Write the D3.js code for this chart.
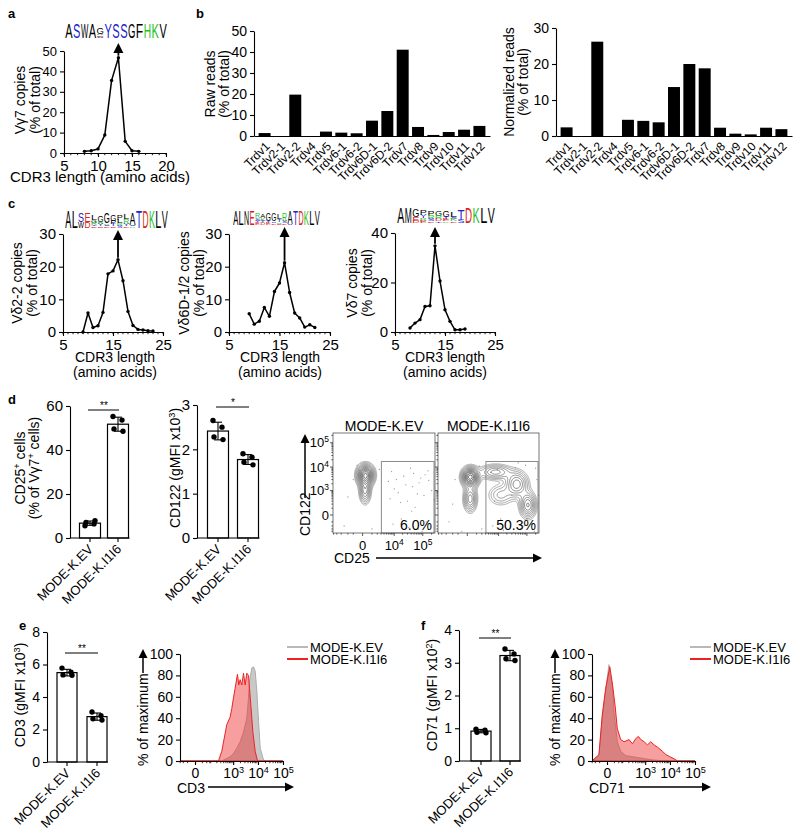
<!DOCTYPE html>
<html><head><meta charset="utf-8">
<script src="https://cdn.jsdelivr.net/npm/d3@7/dist/d3.min.js"></script>
<style>body{margin:0;background:#fff}</style>
</head><body>
<svg id="fig" width="800" height="838" xmlns="http://www.w3.org/2000/svg"></svg>
<script>
// ================= DATA =================
// panel a
const aCdr3Len = [8,9,10,11,12,13,14,15,16];
const aVg7Copies = [0.8,1.1,2.0,8.8,35.6,46.7,5.7,1.1,0.8];
const aPeakLen = 13;
const aLogo = [[["A",1]],[["S",1]],[["W",1]],[["A",1]],[["G",0.5],["R",0.12],["E",0.1],["S",0.1]],[["Y",1]],[["S",1]],[["S",1]],[["G",1]],[["F",1]],[["H",1]],[["K",1]],[["V",1]]];
// panel b
const trdvGenes = ["Trdv1","Trdv2-1","Trdv2-2","Trdv4","Trdv5","Trdv6-1","Trdv6-2","Trdv6D-1","Trdv6D-2","Trdv7","Trdv8","Trdv9","Trdv10","Trdv11","Trdv12"];
const rawReads  = [1.4,0,19.7,0,2.1,1.6,1.3,7.3,11.9,41.1,4.3,0.5,1.9,3.0,4.8];
const normReads = [2.4,0,26.2,0,4.5,4.2,3.8,13.6,20.0,18.8,2.3,0.65,0.45,2.3,1.9];
// panel c
const c1Len = [9,10,11,12,13,14,15,16,17,18,19,20,21,22,23];
const c1Copies = [0,5.8,1.4,1.9,6.0,17.8,18.7,22.1,15.7,6.3,2.0,0.8,0.6,0.4,0.3];
const c2Len = [9,10,11,12,13,14,15,16,17,18,19,20,21,22];
const c2Copies = [5.6,2.4,3.3,7.5,4.8,12.4,15.0,21.2,12.1,5.8,4.3,1.5,2.2,1.4];
const c3Len = [8,9,10,11,12,13,14,15,16,17,18,19];
const c3Copies = [1.6,3.6,5.0,10.3,10.6,34.8,20.6,9.0,4.3,0.9,0.9,1.2];
const cPeakLen = [16,16,13];
const c1Logo = [[["A",1]],[["L",1]],[["S",0.55],["W",0.35]],[["E",0.55],["D",0.35]],
 [["L",0.3],["G",0.15],["R",0.12],["T",0.1],["E",0.1]],[["G",0.4],["R",0.12],["Y",0.12],["E",0.1]],
 [["G",0.6],["K",0.1],["S",0.1],["D",0.1]],[["G",0.35],["P",0.2],["T",0.12],["E",0.1]],
 [["P",0.3],["L",0.2],["R",0.15],["S",0.12]],[["L",0.3],["R",0.3],["Y",0.12],["D",0.1]],
 [["A",0.7],["S",0.1],["K",0.1]],[["T",1]],[["D",1]],[["K",1]],[["L",1]],[["V",1]]];
const c2Logo = [[["A",1]],[["L",1]],[["N",1]],[["E",1]],
 [["R",0.35],["S",0.2],["Y",0.15],["E",0.15]],[["A",0.3],["K",0.15],["T",0.15],["D",0.15]],
 [["G",0.5],["Y",0.15],["E",0.15]],[["G",0.55],["S",0.12],["D",0.12]],
 [["L",0.35],["T",0.15],["R",0.12],["E",0.1]],[["R",0.5],["S",0.15],["D",0.12]],
 [["A",0.85],["S",0.1]],[["T",1]],[["D",1]],[["K",1]],[["L",1]],[["V",1]]];
const c3Logo = [[["A",1]],[["M",1]],[["G",0.5],["E",0.2],["D",0.15]],
 [["P",0.3],["Y",0.2],["R",0.15],["E",0.15]],[["P",0.35],["R",0.2],["S",0.15],["D",0.1]],
 [["G",0.35],["R",0.2],["D",0.15],["T",0.1]],[["G",0.4],["T",0.15],["E",0.12],["K",0.1]],
 [["L",0.35],["S",0.15],["K",0.12],["D",0.1]],[["T",0.65],["S",0.2]],
 [["D",1]],[["K",1]],[["L",1]],[["V",1]]];
// panels d-f (bar + dots)
const groups = ["MODE-K.EV","MODE-K.I1I6"];
const cd25EV = [5.6,6.4,7.1,7.9],     cd25I1I6 = [55.2,53.6,49.6,48.5];
const cd122EV = [2.65,2.50,2.28,2.22], cd122I1I6 = [1.90,1.82,1.71,1.65];
const cd3EV = [5.78,5.52,5.36,5.34],   cd3I1I6 = [3.08,2.85,2.66,2.58];
const cd71EV = [0.97,0.94,0.88,0.86],  cd71I1I6 = [3.42,3.27,3.12,3.07];
const sigMarks = ["**","*","**","**"];
// panel d flow (CD25 x CD122)
const gatePct = ["6.0%","50.3%"];
const gateMin = [3100,17000]; // CD25 lower bound, CD122 upper bound
// populations: [CD25, CD122, sd CD25 (decades), sd CD122 (decades), weight]
const evPops = [[240,4600,0.16,0.24,1],[200,1000,0.11,0.3,0.45]];
const i1i6Pops = [[250,3840,0.16,0.22,1],[240,400,0.13,0.3,0.45],[7700,6200,0.32,0.18,0.35],[44800,1930,0.22,0.3,0.45],[108000,173,0.16,0.3,0.5],[11900,616,0.26,0.26,0.2]];
const evEvents = [[6000,2500],[9000,-150],[14000,800],[22000,4200],[30000,300],[45000,1500],[70000,-300],[110000,600],[160000,2800],[8000,6500],[18000,-50],[26000,1800],[38000,9000],[55000,120],[85000,3500],[130000,-100],[200000,1000],[7000,400],[12000,3000],[48000,5500],[65000,700],[95000,-400],[150000,7000],[17000,250],[33000,-250],[75000,2200],[240000,350],[10000,1200],[42000,50],[120000,4800],[-2000,500],[-1000,3000],[1000,-300],[-3000,-200],[2500,8000],[-500,12000]];
const i1i6Events = [[6000,-200],[9000,8000],[15000,-350],[25000,-100],[40000,9500],[60000,-300],[90000,12000],[150000,-150],[220000,3000],[200000,9000],[7000,300],[12000,-50],[35000,-450],[80000,-200],[180000,-400],[250000,600],[5000,6000],[100000,-50],[50000,15000],[30000,600],[-2000,200],[-1500,3000],[-3000,-100],[2000,-300],[-500,-400],[1500,11000]];
// panel e histogram (CD3)
const cd3HistX_EV = [-92,330,748,1027,1408,1925,2629,3584,4182,4588,5700,6647,7756,9052,10553,12307,16740,19530,100000];
const cd3HistY_EV = [0,0,4,7,12,18,27,40,59,75,87,88,84,65,37,12,1,0,0];
const cd3HistX_I1I6 = [-92,235,330,542,748,877,1027,1203,1498,1699,1925,2251,2629,3069,3584,4182,4588,5196,6256,7756,9619,100000];
const cd3HistY_I1I6 = [0,0,9,34,41,49,59,68,81,71,76,71,82,71,82,80,68,52,27,9,0,0];
// panel f histogram (CD71)
const cd71HistX_EV = [-92,-34,-17,-4,6,20,28,49,78,143,560,2000,6876,100000];
const cd71HistY_EV = [0,5,40,66,90,70,45,18,9,5,3,1,0,0];
const cd71HistX_I1I6 = [-92,-34,-17,-4,9,20,34,49,78,117,204,288,405,523,660,905,1237,1676,2322,3125,5019,6876,9920,14806,20075,100000];
const cd71HistY_I1I6 = [0,6,43,68,88,72,52,30,20,18,20,16,21,23,20,18,15,18,15,13,9,6,4,2,0,0];

// ================= DRAW =================
const FONT = '"Liberation Sans", Arial, Helvetica, sans-serif';
const svg = d3.select("#fig").attr("font-family", FONT);
svg.append("rect").attr("width",800).attr("height",838).attr("fill","#fff");
const residueColor = ch => ("STYCQ".includes(ch) ? "#2323cc" : "KRH".includes(ch) ? "#1fbf1f" : "DE".includes(ch) ? "#dd2020" : "#000");
const intFmt = d3.format("~g");

function styleAxis(g, fs){
  g.attr("font-family",FONT).attr("font-size",fs);
  g.select(".domain").attr("stroke","#000").attr("stroke-width",1.1);
  g.selectAll(".tick line").attr("stroke","#000").attr("stroke-width",1.1);
  g.selectAll(".tick text").attr("fill","#000");
  return g;
}
function rich(sel, parts){
  parts.forEach(p=>{
    if (typeof p === "string") sel.append("tspan").text(p);
    else sel.append("tspan").attr("baseline-shift","super").attr("font-size","65%").text(p.s);
  });
  return sel;
}
function label(x,y,parts,fs,anchor="start",rot=0,weight="normal"){
  const t = svg.append("text").attr("transform",`translate(${x},${y})`+(rot?` rotate(${rot})`:""))
    .attr("font-size",fs).attr("text-anchor",anchor).attr("fill","#000").attr("font-weight",weight);
  return rich(t, typeof parts === "string" ? [parts] : parts);
}
function arrow(x1,y1,x2,y2,head=8,w=4,sw=1.5){
  const a = Math.atan2(y2-y1,x2-x1);
  const bx = x2-head*Math.cos(a), by = y2-head*Math.sin(a);
  svg.append("line").attr("x1",x1).attr("y1",y1).attr("x2",bx).attr("y2",by).attr("stroke","#000").attr("stroke-width",sw);
  svg.append("path").attr("d",`M${x2},${y2}L${bx+w*Math.sin(a)},${by-w*Math.cos(a)}L${bx-w*Math.sin(a)},${by+w*Math.cos(a)}Z`).attr("fill","#000");
}
function supTicks(g){
  g.selectAll(".tick text").each(function(d){
    const t = d3.select(this); t.text(null);
    if (d === 0) t.text("0");
    else { t.append("tspan").text("10"); t.append("tspan").attr("baseline-shift","super").attr("font-size","65%").text(Math.round(Math.log10(d))); }
  });
}
function drawLogo(cols,x0,x1,baseline,height){
  const w = (x1-x0)/cols.length, g = svg.append("g");
  cols.forEach((col,i)=>{
    const total = d3.sum(col,d=>d[1]);
    let yy = baseline - total*height;
    col.forEach(([ch,frac])=>{
      const h = frac*height;
      const t = g.append("text").attr("font-size",100).attr("fill",residueColor(ch)).text(ch);
      const bb = t.node().getBBox();
      const sx = (w*0.94)/bb.width, sy = h/72;
      yy += h;
      t.attr("transform",`translate(${x0+i*w+w*0.03-bb.x*sx},${yy}) scale(${sx},${sy})`);
    });
  });
}

// ---------- line plots (a, c) ----------
function cdr3Plot(o){
  const x = d3.scaleLinear().domain(o.xDomain).range([o.x0,o.x1]);
  const y = d3.scaleLinear().domain(o.yDomain).range([o.y0,o.y1]);
  styleAxis(svg.append("g").attr("transform",`translate(${o.x0},0)`).call(d3.axisLeft(y).tickValues(o.yTicks).tickFormat(intFmt).tickSize(4).tickSizeOuter(0)), o.fsY);
  styleAxis(svg.append("g").attr("transform",`translate(0,${o.y0})`).call(d3.axisBottom(x).tickValues(o.xTicks).tickFormat(intFmt).tickSize(4).tickSizeOuter(0)), o.fsX);
  svg.append("g").selectAll("line").data(d3.range(o.xDomain[0],o.xDomain[1]+1)).join("line")
    .attr("x1",d=>x(d)).attr("x2",d=>x(d)).attr("y1",o.y0).attr("y2",o.y0+2.2).attr("stroke","#000").attr("stroke-width",0.9);
  const pts = d3.zip(o.xs,o.ys);
  svg.append("path").datum(pts).attr("d",d3.line().x(d=>x(d[0])).y(d=>y(d[1])))
    .attr("fill","none").attr("stroke","#000").attr("stroke-width",1.5).attr("stroke-linejoin","round");
  svg.append("g").selectAll("circle").data(pts).join("circle").attr("cx",d=>x(d[0])).attr("cy",d=>y(d[1])).attr("r",1.7).attr("fill","#000");
  const pi = o.xs.indexOf(o.peak);
  arrow(x(o.peak), y(o.ys[pi])-2, x(o.peak), o.arrowTip, 10, 5, 1.8);
}

// panel a
label(8,18,"a",13,"start",0,"bold");
drawLogo(aLogo,65,167,38,14);
cdr3Plot({x0:64,x1:166,y0:153,y1:51,xDomain:[5,20],yDomain:[0,50],xTicks:[5,10,15,20],yTicks:[0,10,20,30,40,50],fsY:13,fsX:15,xs:aCdr3Len,ys:aVg7Copies,peak:aPeakLen,arrowTip:43});
label(25,100,"Vγ7 copies",14,"middle",-90);
label(40,100,"(% of total)",14,"middle",-90);
label(100,182,"CDR3 length (amino acids)",15,"middle");

// panel c
label(8,208,"c",13,"start",0,"bold");
drawLogo(c1Logo,65,168,228,17);
drawLogo(c2Logo,233,320,225,15);
drawLogo(c3Logo,397,495,223,16);
cdr3Plot({x0:63,x1:163,y0:332,y1:234,xDomain:[5,25],yDomain:[0,30],xTicks:[5,15,25],yTicks:[0,10,20,30],fsY:15,fsX:15,xs:c1Len,ys:c1Copies,peak:cPeakLen[0],arrowTip:230});
cdr3Plot({x0:229,x1:330,y0:332,y1:234,xDomain:[5,25],yDomain:[0,30],xTicks:[5,15,25],yTicks:[0,10,20,30],fsY:15,fsX:15,xs:c2Len,ys:c2Copies,peak:cPeakLen[1],arrowTip:227});
cdr3Plot({x0:395,x1:495,y0:332,y1:233,xDomain:[5,25],yDomain:[0,40],xTicks:[5,15,25],yTicks:[0,20,40],fsY:15,fsX:15,xs:c3Len,ys:c3Copies,peak:cPeakLen[2],arrowTip:227});
[["Vδ2-2 copies",22,37,115],["Vδ6D-1/2 copies",189,204,280],["Vδ7 copies",357,372,445]].forEach(([t,b1,b2,cx])=>{
  label(b1,283,t,14,"middle",-90); label(b2,283,"(% of total)",14,"middle",-90);
  label(cx,362,"CDR3 length",14,"middle"); label(cx,377,"(amino acids)",14,"middle");
});

// ---------- panel b ----------
label(196,18,"b",13,"start",0,"bold");
function readsPlot(vals,ax,xr,y0,y1,yMax,yTicks){
  const x = d3.scaleBand().domain(trdvGenes).range(xr).paddingInner(0.22).paddingOuter(0.3);
  const y = d3.scaleLinear().domain([0,yMax]).range([y0,y1]);
  svg.append("g").selectAll("rect").data(trdvGenes).join("rect")
    .attr("x",d=>x(d)).attr("width",x.bandwidth())
    .attr("y",(d,i)=>y(vals[i])).attr("height",(d,i)=>y0-y(vals[i])).attr("fill","#000");
  styleAxis(svg.append("g").attr("transform",`translate(${ax},0)`).call(d3.axisLeft(y).tickValues(yTicks).tickSize(4).tickSizeOuter(0)),14);
  const gx = svg.append("g").attr("transform",`translate(0,${y0})`).call(d3.axisBottom(x).tickSize(0).tickSizeOuter(0));
  styleAxis(gx,12);
  gx.selectAll(".tick text").attr("y",0).attr("x",0).attr("dy","0.35em").attr("text-anchor","end").attr("transform","translate(3,8) rotate(-45)");
}
readsPlot(rawReads,254,[254,490],136,31,50,[0,10,20,30,40,50]);
readsPlot(normReads,556,[556,792],136,28,30,[0,10,20,30]);
label(215,84,"Raw reads",14,"middle",-90); label(229,84,"(% of total)",14,"middle",-90);
label(514,82,"Normalized reads",14,"middle",-90); label(528,82,"(% of total)",14,"middle",-90);

// ---------- bar + dots ----------
const jitter = [-5,4,-4,5];
function dotBar(o){
  const x = d3.scaleBand().domain(groups).range(o.band).paddingInner(o.pad).paddingOuter(o.pad/2);
  const y = d3.scaleLinear().domain(o.yDomain).range([o.y0,o.y1]);
  const bw = x.bandwidth(), sets = [o.a,o.b], g = svg.append("g");
  const cxs = groups.map(k=>x(k)+bw/2);
  sets.forEach((vals,k)=>{
    const cx = cxs[k], m = d3.mean(vals), sd = d3.deviation(vals);
    g.append("rect").attr("x",x(groups[k])).attr("y",y(m)).attr("width",bw).attr("height",o.y0-y(m)).attr("fill","#fff").attr("stroke","#000").attr("stroke-width",1.2);
    g.append("line").attr("x1",cx).attr("x2",cx).attr("y1",y(m+sd)).attr("y2",y(m-sd)).attr("stroke","#000").attr("stroke-width",1.1);
    [m+sd,m-sd].forEach(v=>g.append("line").attr("x1",cx-4).attr("x2",cx+4).attr("y1",y(v)).attr("y2",y(v)).attr("stroke","#000").attr("stroke-width",1.1));
    g.selectAll(null).data(vals).join("circle").attr("cx",(v,i)=>cx+jitter[i]).attr("cy",v=>y(v)).attr("r",2.7).attr("fill","#000");
  });
  styleAxis(svg.append("g").attr("transform",`translate(${o.ax},0)`).call(d3.axisLeft(y).tickValues(o.yTicks).tickFormat(intFmt).tickSize(4).tickSizeOuter(0)),o.fs);
  g.append("line").attr("x1",o.ax).attr("x2",cxs[1]+bw/2+1).attr("y1",o.y0).attr("y2",o.y0).attr("stroke","#000").attr("stroke-width",1.1);
  cxs.forEach((cx,k)=>{
    g.append("line").attr("x1",cx).attr("x2",cx).attr("y1",o.y0).attr("y2",o.y0+4).attr("stroke","#000").attr("stroke-width",1.1);
    label(cx+4,o.y0+12,groups[k],13,"end",-45);
  });
  g.append("line").attr("x1",cxs[0]-2).attr("x2",cxs[1]+1).attr("y1",o.sigY).attr("y2",o.sigY).attr("stroke","#000").attr("stroke-width",1);
  label((cxs[0]+cxs[1])/2,o.sigY-1,o.sig,10,"middle");
}
label(8,404,"d",13,"start",0,"bold");
dotBar({a:cd25EV,b:cd25I1I6,ax:70,band:[76,132],pad:0.25,y0:538,y1:406,yDomain:[0,60],yTicks:[0,20,40,60],sigY:410,sig:sigMarks[0],fs:15});
label(25,468,["CD25",{s:"+"}," cells"],14,"middle",-90);
label(39,468,["(% of Vγ7",{s:"+"}," cells)"],14,"middle",-90);
dotBar({a:cd122EV,b:cd122I1I6,ax:197,band:[203,263],pad:0.3,y0:538,y1:405,yDomain:[0,3],yTicks:[0,1,2,3],sigY:407,sig:sigMarks[1],fs:15});
label(180,468,["CD122 (gMFI x10",{s:"3"},")"],14,"middle",-90);

label(19,630,"e",13,"start",0,"bold");
dotBar({a:cd3EV,b:cd3I1I6,ax:47,band:[52,112],pad:0.333,y0:762,y1:632,yDomain:[0,8],yTicks:[0,2,4,6,8],sigY:653,sig:sigMarks[2],fs:14});
label(25,695,["CD3 (gMFI x10",{s:"3"},")"],14,"middle",-90);
label(421,630,"f",13,"start",0,"bold");
dotBar({a:cd71EV,b:cd71I1I6,ax:459,band:[466.5,524.5],pad:0.31,y0:761,y1:630,yDomain:[0,4],yTicks:[0,1,2,3,4],sigY:638,sig:sigMarks[3],fs:14});
label(437,695,["CD71 (gMFI x10",{s:"2"},")"],14,"middle",-90);

// ---------- flow contour plots ----------
function flowPlot(o){
  const cX = 935, cY = 111;
  const xs = d3.scaleSymlog().constant(cX).domain([-8400,260000]).range([o.x0,o.x1]);
  const ys = d3.scaleSymlog().constant(cY).domain([-492,250000]).range([o.y1,o.y0]);
  const T = (v,c)=>Math.sign(v)*Math.log1p(Math.abs(v)/c);
  const pxDecX = (o.x1-o.x0)/(T(260000,cX)-T(-8400,cX))*Math.LN10;
  const pxDecY = (o.y1-o.y0)/(T(250000,cY)-T(-492,cY))*Math.LN10;
  const W = Math.round(o.x1-o.x0), H = Math.round(o.y1-o.y0);
  const vals = new Float64Array(W*H);
  o.pops.forEach(([vx,vy,sdx,sdy,w])=>{
    const px = xs(vx)-o.x0, py = ys(vy)-o.y0, sx = sdx*pxDecX, sy = sdy*pxDecY;
    for (let j=0;j<H;j++) for (let i=0;i<W;i++){
      const dx=(i+0.5-px)/sx, dy=(j+0.5-py)/sy;
      vals[j*W+i] += w*Math.exp(-0.5*(dx*dx+dy*dy));
    }
  });
  const mx = d3.max(vals);
  const levels = [0.06,0.09,0.13,0.18,0.24,0.31,0.39,0.48,0.58,0.69,0.81,0.93].map(f=>f*mx);
  const cs = d3.contours().size([W,H]).thresholds(levels)(vals);
  const col = d3.interpolateRgb("#8a8a8a","#1e1e1e");
  const clipId = "clip"+o.id;
  svg.append("clipPath").attr("id",clipId).append("rect").attr("x",o.x0).attr("y",o.y0).attr("width",o.x1-o.x0).attr("height",o.y1-o.y0);
  const g = svg.append("g").attr("clip-path",`url(#${clipId})`);
  g.selectAll("circle").data(o.events).join("circle").attr("cx",d=>xs(d[0])).attr("cy",d=>ys(d[1])).attr("r",0.6).attr("fill","#8a8a8a");
  g.append("g").attr("transform",`translate(${o.x0},${o.y0})`).selectAll("path").data(cs).join("path")
    .attr("d",d3.geoPath()).attr("fill","none").attr("stroke",(d,i)=>col(i/(cs.length-1))).attr("stroke-width",0.7);
  const gx = xs(gateMin[0]), gy = ys(gateMin[1]);
  svg.append("rect").attr("x",gx).attr("y",gy).attr("width",o.x1-gx-1).attr("height",o.y1-gy).attr("fill","none").attr("stroke","#8c8c8c").attr("stroke-width",1);
  svg.append("rect").attr("x",o.x0).attr("y",o.y0).attr("width",o.x1-o.x0).attr("height",o.y1-o.y0).attr("fill","none").attr("stroke","#555").attr("stroke-width",0.8);
  const majY = [0,1e3,1e4,1e5], minY = [-400,-300,-200,-100,100,200,300,400,500,600,700,800,900,2000,3000,4000,5000,6000,7000,8000,9000,20000,30000,40000,50000,60000,70000,80000,90000,200000];
  const majX = [0,1e4,1e5], minX = [-8000,-6000,-4000,-2000,-1000,1000,2000,3000,4000,5000,6000,7000,8000,9000,20000,30000,40000,50000,60000,70000,80000,90000,200000];
  const tk = svg.append("g").attr("stroke","#333").attr("stroke-width",0.8);
  majY.forEach(v=>tk.append("line").attr("x1",o.x0-3).attr("x2",o.x0).attr("y1",ys(v)).attr("y2",ys(v)));
  minY.forEach(v=>tk.append("line").attr("x1",o.x0-1.6).attr("x2",o.x0).attr("y1",ys(v)).attr("y2",ys(v)));
  majX.forEach(v=>tk.append("line").attr("y1",o.y1).attr("y2",o.y1+3).attr("x1",xs(v)).attr("x2",xs(v)));
  minX.forEach(v=>tk.append("line").attr("y1",o.y1).attr("y2",o.y1+1.6).attr("x1",xs(v)).attr("x2",xs(v)));
  if (o.labels){
    majY.forEach(v=>label(o.x0-4,ys(v)+4.5, v===0?"0":["10",{s:String(Math.log10(v))}],13,"end"));
    majX.forEach(v=>label(xs(v),o.y1+17, v===0?"0":["10",{s:String(Math.log10(v))}],13,"middle"));
  }
  label((o.x0+o.x1)/2,431,o.title,14,"middle");
  label(o.x1-3,o.y1-3,o.pct,14,"end");
}
flowPlot({id:1,x0:333,x1:435,y0:433,y1:533,pops:evPops,events:evEvents,title:groups[0],pct:gatePct[0],labels:true});
flowPlot({id:2,x0:438,x1:539,y0:433,y1:533,pops:i1i6Pops,events:i1i6Events,title:groups[1],pct:gatePct[1],labels:false});
label(310,536,"CD122",14,"start",-90);
arrow(305,498,305,434,9,4.5,1.5);
label(334,563,"CD25",14,"start");
arrow(376,558,542,558,9,4.5,1.5);

// ---------- histograms ----------
function histPlot(o){
  const x = d3.scaleSymlog().constant(31).domain([-92,1e5]).range([o.x0,o.x1]);
  const y = d3.scaleLinear().domain([0,100]).range([o.y0,o.y1]);
  const area = d3.area().x(d=>x(d[0])).y0(o.y0).y1(d=>y(d[1]));
  svg.append("path").datum(d3.zip(o.evX,o.evY)).attr("d",area).attr("fill","#c8c8c8").attr("stroke","#adadad").attr("stroke-width",1);
  svg.append("path").datum(d3.zip(o.iX,o.iY)).attr("d",area).attr("fill","rgba(238,40,40,0.45)").attr("stroke","#ee2222").attr("stroke-width",1);
  styleAxis(svg.append("g").attr("transform",`translate(${o.x0},0)`).call(d3.axisLeft(y).tickValues([0,20,40,60,80,100]).tickSize(4).tickSizeOuter(0)),14);
  const gx = svg.append("g").attr("transform",`translate(0,${o.y0})`).call(d3.axisBottom(x).tickValues([0,1e3,1e4,1e5]).tickSize(4).tickSizeOuter(0));
  styleAxis(gx,14); supTicks(gx);
  const minors = [-90,-60,-30,30,60,90,100,200,300,400,500,600,700,800,900,2000,3000,4000,5000,6000,7000,8000,9000,20000,30000,40000,50000,60000,70000,80000,90000];
  svg.append("g").selectAll("line").data(minors).join("line").attr("x1",d=>x(d)).attr("x2",d=>x(d)).attr("y1",o.y0).attr("y2",o.y0+2.2).attr("stroke","#000").attr("stroke-width",0.8);
  [[groups[0],"#b8b8b8"],[groups[1],"#ee2222"]].forEach(([t,c],k)=>{
    svg.append("line").attr("x1",o.lx).attr("x2",o.lx+21).attr("y1",647+12*k).attr("y2",647+12*k).attr("stroke",c).attr("stroke-width",2);
    label(o.lx+23,652+12*k,t,13,"start");
  });
  label(o.tx,766,"% of maximum",14,"start",-90);
  arrow(o.tx-5,673,o.tx-5,649,9,4.5,1.5);
  label(o.x0-3,793,o.xl,14,"start");
  arrow(o.ax0,787,o.ax1,787,9,4.5,1.5);
}
histPlot({x0:180,x1:283,y0:761,y1:654,evX:cd3HistX_EV,evY:cd3HistY_EV,iX:cd3HistX_I1I6,iY:cd3HistY_I1I6,lx:287,tx:148,xl:"CD3",ax0:208,ax1:294});
histPlot({x0:592,x1:695,y0:761,y1:654,evX:cd71HistX_EV,evY:cd71HistY_EV,iX:cd71HistX_I1I6,iY:cd71HistY_I1I6,lx:690,tx:560,xl:"CD71",ax0:629,ax1:711});
</script></body></html>
